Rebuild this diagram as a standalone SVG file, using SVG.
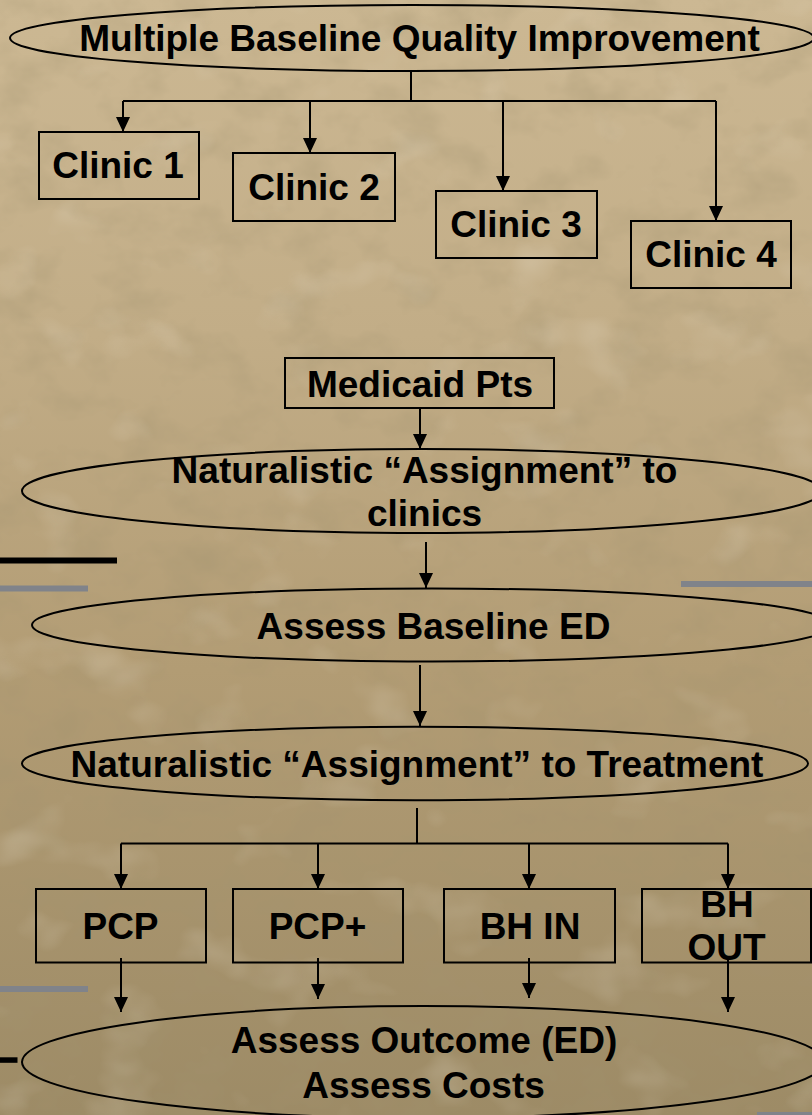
<svg xmlns="http://www.w3.org/2000/svg" width="812" height="1115" viewBox="0 0 812 1115">
  <defs>
    <linearGradient id="bg" x1="0" y1="0" x2="0" y2="1">
      <stop offset="0" stop-color="#ccb893"/>
      <stop offset="0.3" stop-color="#c2ad87"/>
      <stop offset="0.6" stop-color="#b29c74"/>
      <stop offset="1" stop-color="#9d8b66"/>
    </linearGradient>
    <filter id="marble" x="0" y="0" width="100%" height="100%">
      <feTurbulence type="fractalNoise" baseFrequency="0.018 0.024" numOctaves="4" seed="7"/>
      <feColorMatrix type="matrix" values="0 0 0 0 0.36  0 0 0 0 0.29  0 0 0 0 0.16  0.8 0 0 0 -0.36"/>
    </filter>
    <filter id="streak" x="0" y="0" width="100%" height="100%">
      <feTurbulence type="fractalNoise" baseFrequency="0.012 0.016" numOctaves="3" seed="21"/>
      <feColorMatrix type="matrix" values="0 0 0 0 0.93  0 0 0 0 0.88  0 0 0 0 0.78  0 0.6 0 0 -0.36"/>
    </filter>
    <marker id="arrow" markerUnits="userSpaceOnUse" markerWidth="15" markerHeight="14" refX="15" refY="7" orient="auto">
      <path d="M0,0 L15,7 L0,14 z" fill="#000"/>
    </marker>
    <style>
      .shape { fill: none; stroke: #000; stroke-width: 2; }
      .lbl { font-family: "Liberation Sans", Arial, sans-serif; font-weight: bold; font-size: 37px; fill: #000; text-anchor: middle; }
      .conn { fill: none; stroke: #000; stroke-width: 2; }
      .arr { marker-end: url(#arrow); }
      .bar-k { fill: #000; }
      .bar-g { fill: #80838a; }
    </style>
  </defs>

  <g id="background">
    <rect x="0" y="0" width="812" height="1115" fill="url(#bg)"/>
    <rect x="0" y="0" width="812" height="1115" filter="url(#marble)"/>
    <rect x="0" y="0" width="812" height="1115" filter="url(#streak)"/>
  </g>

  <g id="decor">
    <rect class="bar-k" x="0" y="557.5" width="117" height="6"/>
    <rect class="bar-g" x="0" y="585.5" width="88" height="6"/>
    <rect class="bar-g" x="681" y="581" width="131" height="6"/>
    <rect class="bar-g" x="0" y="986" width="88" height="6"/>
    <rect class="bar-k" x="0" y="1057.3" width="17.5" height="5.5"/>
    <rect class="bar-g" x="757" y="1112" width="55" height="3"/>
  </g>

  <g id="connectors">
    <path class="conn" d="M411,71 V101 M123,101 H716"/>
    <path class="conn arr" d="M123,101 V132"/>
    <path class="conn arr" d="M310,101 V153"/>
    <path class="conn arr" d="M503,101 V191"/>
    <path class="conn arr" d="M716,101 V221"/>
    <path class="conn arr" d="M420,408 V449"/>
    <path class="conn arr" d="M426,542 V588"/>
    <path class="conn arr" d="M420,665 V726"/>
    <path class="conn" d="M417,808 V843.5 M121,843.5 H728"/>
    <path class="conn arr" d="M121,843.5 V889"/>
    <path class="conn arr" d="M318,843.5 V889"/>
    <path class="conn arr" d="M529,843.5 V889"/>
    <path class="conn arr" d="M728,843.5 V889"/>
    <path class="conn arr" d="M121,958 V1012"/>
    <path class="conn arr" d="M318,958 V999"/>
    <path class="conn arr" d="M529,958 V998"/>
    <path class="conn arr" d="M728,958 V1012"/>
  </g>

  <g id="mbqi">
    <ellipse class="shape" cx="412" cy="38" rx="402" ry="33"/>
    <text class="lbl" x="419.5" y="50.5">Multiple Baseline Quality Improvement</text>
  </g>

  <g id="clinic1">
    <rect class="shape" x="39" y="132" width="160" height="67"/>
    <text class="lbl" x="118" y="177.5">Clinic 1</text>
  </g>
  <g id="clinic2">
    <rect class="shape" x="233" y="153" width="162" height="68"/>
    <text class="lbl" x="314" y="200">Clinic 2</text>
  </g>
  <g id="clinic3">
    <rect class="shape" x="436" y="191" width="161" height="67"/>
    <text class="lbl" x="516" y="237">Clinic 3</text>
  </g>
  <g id="clinic4">
    <rect class="shape" x="631" y="221" width="160" height="67"/>
    <text class="lbl" x="711" y="266.5">Clinic 4</text>
  </g>

  <g id="medicaid">
    <rect class="shape" x="285" y="358" width="269" height="50"/>
    <text class="lbl" x="420" y="396.5">Medicaid Pts</text>
  </g>

  <g id="assign-clinics">
    <ellipse class="shape" cx="422" cy="491" rx="400" ry="42"/>
    <text class="lbl" x="424.5" y="482.5">Naturalistic “Assignment” to</text>
    <text class="lbl" x="424.5" y="525.5">clinics</text>
  </g>

  <g id="baseline-ed">
    <ellipse class="shape" cx="432" cy="625" rx="400" ry="36.5"/>
    <text class="lbl" x="433.5" y="638.5">Assess Baseline ED</text>
  </g>

  <g id="assign-treatment">
    <ellipse class="shape" cx="415" cy="763.5" rx="393" ry="36.7"/>
    <text class="lbl" x="417" y="776.5">Naturalistic “Assignment” to Treatment</text>
  </g>

  <g id="pcp">
    <rect class="shape" x="36" y="889" width="170" height="73.5"/>
    <text class="lbl" x="120.5" y="939">PCP</text>
  </g>
  <g id="pcp-plus">
    <rect class="shape" x="233" y="889" width="170" height="73.5"/>
    <text class="lbl" x="317.5" y="939">PCP+</text>
  </g>
  <g id="bh-in">
    <rect class="shape" x="444" y="889" width="171" height="73.5"/>
    <text class="lbl" x="530" y="939">BH IN</text>
  </g>
  <g id="bh-out">
    <rect class="shape" x="642" y="889" width="169" height="73.5"/>
    <text class="lbl" x="727" y="917">BH</text>
    <text class="lbl" x="726.5" y="960">OUT</text>
  </g>

  <g id="outcome">
    <ellipse class="shape" cx="423" cy="1062" rx="401" ry="56"/>
    <text class="lbl" x="424" y="1053">Assess Outcome (ED)</text>
    <text class="lbl" x="423.5" y="1098">Assess Costs</text>
  </g>
</svg>
